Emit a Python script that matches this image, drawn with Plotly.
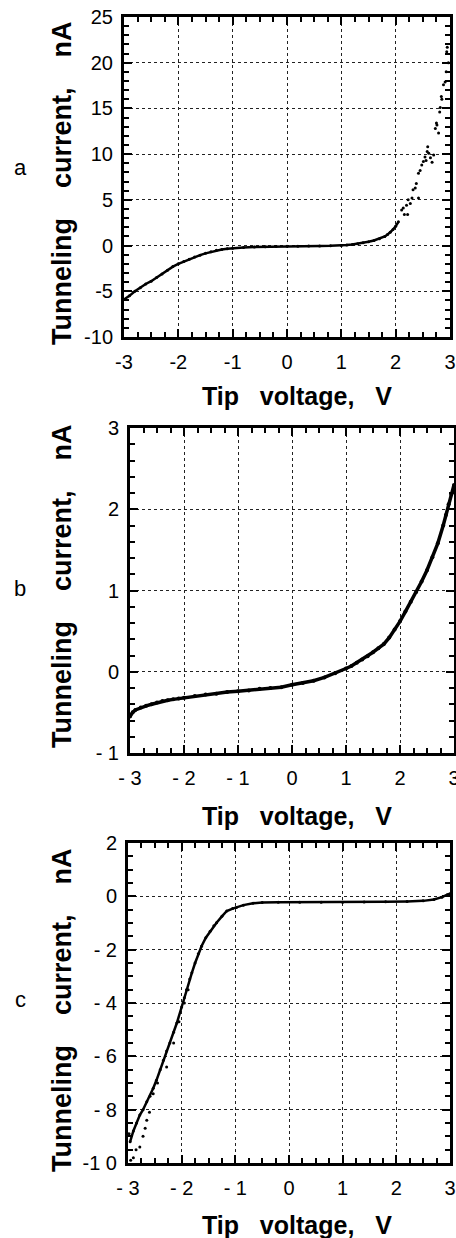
import plotly.graph_objects as go

# ---------------- data ----------------
# Panel a
a_x_curve = [-3.0, -2.9, -2.8, -2.7, -2.6, -2.5, -2.4, -2.3, -2.2, -2.1, -2.0, -1.9, -1.8, -1.7, -1.6,
             -1.5, -1.4, -1.3, -1.2, -1.1, -1.0, -0.8, -0.6, -0.4, -0.2, 0.0, 0.2, 0.4, 0.6, 0.8,
             1.0, 1.1, 1.2, 1.3, 1.4, 1.5, 1.6, 1.7, 1.8, 1.85, 1.9, 1.95, 2.0, 2.05]
a_y_curve = [-5.9, -5.5, -5.0, -4.6, -4.2, -3.9, -3.5, -3.1, -2.7, -2.3, -2.0, -1.75, -1.5, -1.25, -1.05,
             -0.85, -0.68, -0.52, -0.42, -0.34, -0.28, -0.2, -0.15, -0.12, -0.1, -0.08, -0.07, -0.06, -0.05, -0.03,
             0.0, 0.05, 0.12, 0.2, 0.3, 0.42, 0.55, 0.75, 1.0, 1.2, 1.45, 1.75, 2.1, 2.6]
a_x_scatter = [2.11, 2.16, 2.22, 2.20, 2.23, 2.30, 2.42, 2.27, 2.32, 2.38, 2.42, 2.48, 2.54, 2.59, 2.64,
               2.70, 2.61, 2.67, 2.56, 2.76, 2.79, 2.75, 2.81, 2.82, 2.84, 2.85, 2.88, 2.91, 2.93, 2.94,
               2.95, 2.97, 2.14, 2.36, 2.45, 2.51, 2.58, 2.73]
a_y_scatter = [3.9, 3.4, 3.4, 4.4, 5.0, 5.2, 5.2, 4.6, 6.1, 6.8, 7.9, 8.8, 9.7, 10.8, 9.6,
               9.9, 10.1, 9.1, 9.3, 13.2, 12.3, 13.4, 14.6, 15.1, 16.3, 16.0, 17.6, 17.9, 19.0, 21.2,
               21.7, 20.0, 4.1, 6.3, 8.2, 9.2, 10.3, 12.8]

# Panel b
b_x_curve = [-3.0, -2.95, -2.9, -2.8, -2.7, -2.6, -2.5, -2.4, -2.3, -2.2, -2.1, -2.0, -1.8, -1.6, -1.4,
             -1.2, -1.0, -0.8, -0.6, -0.4, -0.2, 0.0, 0.2, 0.4, 0.6, 0.8, 1.0, 1.1, 1.2, 1.3,
             1.4, 1.5, 1.6, 1.7, 1.8, 1.9, 2.0, 2.1, 2.2, 2.3, 2.4, 2.5, 2.6, 2.7, 2.8,
             2.85, 2.9, 2.95, 3.0]
b_y_curve = [-0.55, -0.50, -0.47, -0.44, -0.42, -0.40, -0.38, -0.36, -0.35, -0.34, -0.33, -0.32, -0.30, -0.28, -0.27,
             -0.25, -0.24, -0.23, -0.21, -0.20, -0.19, -0.16, -0.14, -0.11, -0.07, -0.02, 0.04, 0.07, 0.11, 0.15,
             0.19, 0.24, 0.29, 0.34, 0.42, 0.52, 0.62, 0.74, 0.86, 0.98, 1.11, 1.25, 1.41, 1.58, 1.80,
             1.93, 2.06, 2.18, 2.30]

# Panel c
c_x_curve = [-2.96, -2.9, -2.84, -2.78, -2.72, -2.65, -2.59, -2.53, -2.47, -2.40, -2.34, -2.28, -2.22, -2.15, -2.09,
             -2.0, -1.95, -1.91, -1.85, -1.81, -1.75, -1.69, -1.63, -1.55, -1.47, -1.40, -1.35, -1.25, -1.16, -1.05,
             -0.98, -0.85, -0.67, -0.5, -0.2, 0.2, 0.6, 1.0, 1.4, 1.8, 2.2, 2.5, 2.7, 2.85, 2.95, 3.0]
c_y_curve = [-9.2, -8.8, -8.5, -8.2, -8.0, -7.7, -7.5, -7.2, -6.9, -6.5, -6.15, -5.8, -5.5, -5.1, -4.75,
             -4.15, -3.8, -3.5, -3.1, -2.87, -2.5, -2.15, -1.87, -1.55, -1.31, -1.1, -0.99, -0.75, -0.55, -0.46,
             -0.42, -0.33, -0.26, -0.23, -0.22, -0.22, -0.22, -0.22, -0.21, -0.2, -0.19, -0.17, -0.12, -0.03, 0.06, 0.1]
c_x_scatter = [-2.65, -2.53, -2.28, -2.78, -2.9, -2.72, -2.68, -2.95, -2.98, -2.85, -2.6, -2.45, -2.15, -2.05, -1.95, -1.88]
c_y_scatter = [-8.4, -7.4, -6.4, -9.4, -9.8, -9.0, -8.7, -9.9, -8.9, -9.5, -8.1, -7.0, -5.5, -4.7, -4.0, -3.5]

# tick labels (plotly default label -> printed label)
M = "\u2212"
a_x_alias = {M + "3": "-3", M + "2": "-2", M + "1": "-1"}
bc_x_alias = {M + "3": "- 3", M + "2": "- 2", M + "1": "- 1"}
a_y_alias = {M + "10": "-10", M + "5": "-5"}
b_y_alias = {M + "1": "- 1"}
c_y_alias = {M + "10": "-1 0", M + "8": "- 8", M + "6": "- 6", M + "4": "- 4", M + "2": "- 2"}

x_title = "Tip\u00a0\u00a0\u00a0voltage,\u00a0\u00a0\u00a0V"
y_title = "Tunneling\u00a0\u00a0\u00a0\u00a0current,\u00a0\u00a0\u00a0\u00a0nA"
panel_labels = ["a", "b", "c"]

# ---------------- figure ----------------
W, H = 456, 1238
FONT = "Liberation Sans, Arial, Helvetica, sans-serif"


def fx(p):
    return p / W


def fy(p):
    return 1 - p / H


fig = go.Figure()
dot = dict(color="black", size=3)
line = dict(color="black", width=2.5)

fig.add_trace(go.Scatter(x=a_x_curve, y=a_y_curve, mode="lines+markers", line=line, marker=dot,
                         xaxis="x", yaxis="y"))
fig.add_trace(go.Scatter(x=a_x_scatter, y=a_y_scatter, mode="markers", marker=dot,
                         xaxis="x", yaxis="y"))
fig.add_trace(go.Scatter(x=b_x_curve, y=b_y_curve, mode="lines+markers", line=dict(color="black", width=3.5),
                         marker=dict(color="black", size=4), xaxis="x2", yaxis="y2"))
fig.add_trace(go.Scatter(x=c_x_curve, y=c_y_curve, mode="lines+markers", line=line, marker=dot,
                         xaxis="x3", yaxis="y3"))
fig.add_trace(go.Scatter(x=c_x_scatter, y=c_y_scatter, mode="markers", marker=dot,
                         xaxis="x3", yaxis="y3"))


def axis(domain, rng, dt, alias, minor_dt, anchor, standoff):
    return dict(
        domain=domain, range=rng, anchor=anchor, automargin=False, ticklabeloverflow="allow",
        tickmode="linear", tick0=0, dtick=dt, labelalias=alias,
        showline=True, linecolor="black", linewidth=3, mirror="allticks",
        ticks="inside", ticklen=8, tickwidth=2, tickcolor="black",
        showgrid=True, gridcolor="#222", griddash="dot",
        zeroline=False,
        minor=dict(tickmode="linear", dtick=minor_dt, tick0=0, ticks="inside", ticklen=5, tickwidth=1.5,
                   tickcolor="black", showgrid=False),
        tickfont=dict(family=FONT, size=20, color="black"),
        ticklabelstandoff=standoff,
    )


# pixel boxes: a x[124,450] y[17,337]; b x[130,454] y[428,753]; c x[128,450] y[843,1163]
fig.update_layout(
    width=W, height=H,
    margin=dict(l=0, r=0, t=0, b=0, autoexpand=False),
    paper_bgcolor="white", plot_bgcolor="white",
    showlegend=False,
    xaxis=axis([fx(124), fx(450)], [-3, 3], 1, a_x_alias, 0.25, "y", 5),
    yaxis=axis([fy(337), fy(17)], [-10, 25], 5, a_y_alias, 1, "x", 4),
    xaxis2=axis([fx(130), fx(454)], [-3, 3], 1, bc_x_alias, 0.25, "y2", 5),
    yaxis2=axis([fy(753), fy(428)], [-1, 3], 1, b_y_alias, 0.2, "x2", 4),
    xaxis3=axis([fx(128), fx(450)], [-3, 3], 1, bc_x_alias, 0.25, "y3", 5),
    yaxis3=axis([fy(1163), fy(843)], [-10, 2], 2, c_y_alias, 0.5, "x3", 4),
)

annotations = []
label_pos = [(20, 167), (20, 588), (20, 1000)]
ytitle_pos = [(62, 183), (62, 586), (62, 1010)]
xtitle_pos = [(297, 396), (297, 816), (297, 1225)]
for lab, (lx, ly) in zip(panel_labels, label_pos):
    annotations.append(dict(text=lab, x=fx(lx), y=fy(ly), xref="paper", yref="paper",
                            showarrow=False, xanchor="center", yanchor="middle",
                            font=dict(family=FONT, size=22, color="black")))
for (tx, ty) in ytitle_pos:
    annotations.append(dict(text="<b>" + y_title + "</b>", x=fx(tx), y=fy(ty), xref="paper", yref="paper",
                            showarrow=False, xanchor="center", yanchor="middle", textangle=-90,
                            font=dict(family=FONT, size=27, color="black")))
for (tx, ty) in xtitle_pos:
    annotations.append(dict(text="<b>" + x_title + "</b>", x=fx(tx), y=fy(ty), xref="paper", yref="paper",
                            showarrow=False, xanchor="center", yanchor="middle",
                            font=dict(family=FONT, size=25, color="black")))
fig.update_layout(annotations=annotations)

fig.write_html("out.html")
